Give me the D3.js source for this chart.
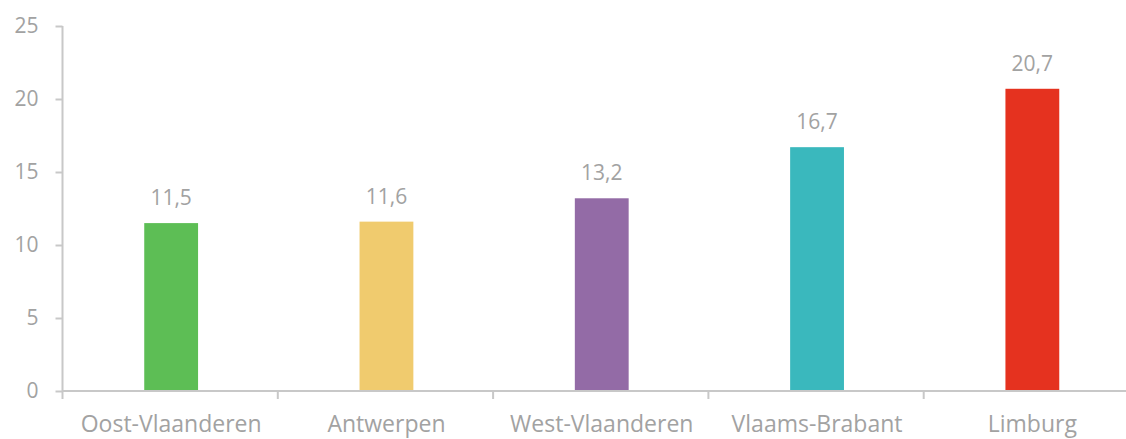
<!DOCTYPE html>
<html>
<head>
<meta charset="utf-8">
<script src="https://cdn.jsdelivr.net/npm/d3@7"></script>
<style>
  html, body { margin: 0; padding: 0; background: #fff; }
  svg text { font-family: "Open Sans", sans-serif; font-weight: 400; fill: #a2a2a2; }
</style>
</head>
<body>
<div id="chart"></div>
<script>
// Provinces and their values
const provinces = ["Oost-Vlaanderen", "Antwerpen", "West-Vlaanderen", "Vlaams-Brabant", "Limburg"];
const values = [11.5, 11.6, 13.2, 16.7, 20.7];
const barColors = ["#5dbe55", "#f0cb6e", "#936ba6", "#3ab8bd", "#e5321f"];
const yTicks = [0, 5, 10, 15, 20, 25];

const width = 1126, height = 439;
const margin = { top: 26, right: -13, bottom: 48, left: 62.5 };

const svg = d3.select("#chart").append("svg")
  .attr("width", width)
  .attr("height", height);

const x = d3.scaleBand()
  .domain(provinces)
  .range([margin.left, width - margin.right])
  .padding(0);

const y = d3.scaleLinear()
  .domain([0, 25])
  .range([height - margin.bottom, margin.top]);

const axisColor = "#c8c8c8";

// y axis
const yAxis = svg.append("g")
  .attr("transform", `translate(${margin.left},0)`)
  .call(d3.axisLeft(y).tickValues(yTicks).tickSize(7).tickPadding(17).tickFormat(d3.format("d")));
yAxis.select(".domain").attr("stroke", axisColor).attr("stroke-width", 2)
  .attr("d", `M0,${y(25)}V${y(0)}`);
yAxis.selectAll(".tick line").attr("stroke", axisColor).attr("stroke-width", 2);
yAxis.selectAll(".tick text").style("font-size", "21px");

// bars
const barW = x.bandwidth() * 0.25;
svg.append("g").selectAll("rect")
  .data(values)
  .join("rect")
  .attr("x", (d, i) => x(provinces[i]) + x.bandwidth() / 2 - barW / 2 + 1)
  .attr("y", d => y(d))
  .attr("width", barW)
  .attr("height", d => y(0) - y(d))
  .attr("fill", (d, i) => barColors[i]);

// x axis with ticks at the category boundaries
const xAxis = svg.append("g")
  .attr("transform", `translate(0,${y(0)})`);
xAxis.append("line")
  .attr("x1", margin.left).attr("x2", width)
  .attr("stroke", axisColor).attr("stroke-width", 2);
xAxis.selectAll("line.tick")
  .data(provinces)
  .join("line")
  .attr("class", "tick")
  .attr("x1", d => x(d)).attr("x2", d => x(d))
  .attr("y1", 0).attr("y2", 8)
  .attr("stroke", axisColor).attr("stroke-width", 2);
xAxis.selectAll("text")
  .data(provinces)
  .join("text")
  .attr("x", d => x(d) + x.bandwidth() / 2 + 1)
  .attr("y", 41)
  .attr("text-anchor", "middle")
  .style("font-size", "23px")
  .text(d => d);

// value labels
const fmt = v => v.toFixed(1).replace(".", ",");
svg.append("g").selectAll("text")
  .data(values)
  .join("text")
  .attr("x", (d, i) => x(provinces[i]) + x.bandwidth() / 2 + 1)
  .attr("y", d => y(d) - 18)
  .attr("text-anchor", "middle")
  .style("font-size", "21px")
  .text(fmt);
</script>
</body>
</html>
